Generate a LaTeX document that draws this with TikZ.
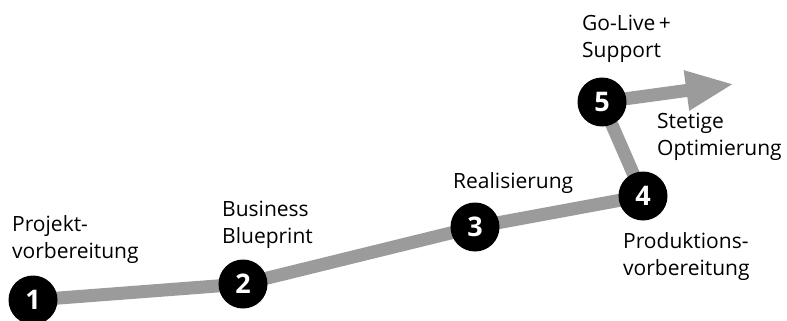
\documentclass[tikz,border=0pt]{standalone}
\usepackage{fontspec}
\setmainfont{Open Sans}
\usetikzlibrary{arrows.meta,backgrounds}
\definecolor{TrackGray}{HTML}{9B9B9B}

\begin{document}
\begin{tikzpicture}[x=1pt,y=-1pt,
	step node/.style={circle, fill=black, inner sep=0pt, minimum size=49pt,
		text=white, font=\fontsize{27}{27}\selectfont\bfseries},
	phase/.style={anchor=base west, align=left, inner sep=0pt,
		font=\fontsize{21}{27}\selectfont},
	track/.style={TrackGray, line width=13pt}
	]
	\useasboundingbox (0,0) rectangle (787,321);
	% milestones
	\node[step node] (n1) at (33,300) {1};
	\node[step node] (n2) at (243,284) {2};
	\node[step node] (n3) at (475,227) {3};
	\node[step node] (n4) at (643,196) {4};
	\node[step node] (n5) at (602,102) {5};
	\coordinate (tip) at (734,84);
	% grey path underneath
	\begin{scope}[on background layer]
		\draw[track, line join=round] (n1.center) -- (n2.center) -- (n3.center) -- (n4.center) -- (n5.center);
		\draw[track, -{Triangle[width=37pt,length=48pt]}] (n5.center) -- (tip);
	\end{scope}
	% phase labels (anchored on the last line)
	\node[phase] (l1) at (12,258) {Projekt-\\vorbereitung};
	\node[phase] (l2) at (222,243) {Business\\Blueprint};
	\node[phase] (l3) at (453,188) {Realisierung};
	\node[phase] (l4) at (623,275) {Produktions-\\vorbereitung};
	\node[phase] (l5) at (582,58) {Go-Live\,+\\Support};
	\node[phase] (l6) at (657,155) {Stetige\\Optimierung};
\end{tikzpicture}
\end{document}
